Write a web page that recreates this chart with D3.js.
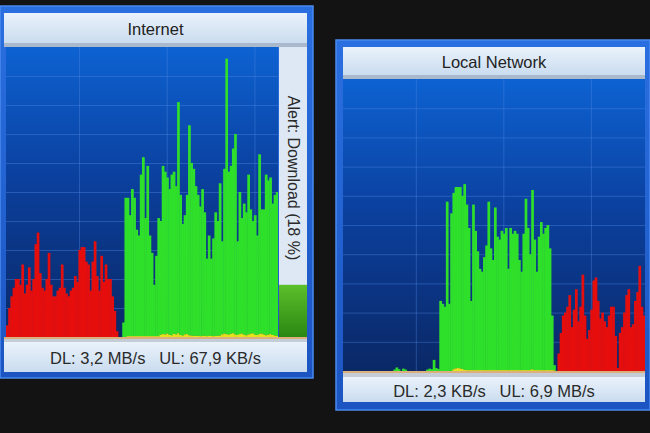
<!DOCTYPE html>
<html>
<head>
<meta charset="utf-8">
<script src="https://cdn.jsdelivr.net/npm/d3@7"></script>
<style>
  body { margin: 0; background: #131313; }
  svg { display: block; }
</style>
</head>
<body>
<svg id="chart" width="650" height="433"></svg>
<script>
// traffic samples, percent of full scale, one value per column (oldest first)
var internetDownload = [
  0,0,0,0,0,0,0,0,0,0, 0,0,0,0,0,0,0,0,0,0, 0,0,0,0,0,0,0,0,0,0,
  0,0,0,0,0,0,0,0,0,0, 0,0,0,0,0,0,0,0,0,0, 0,0,0,
  5,48,48,42,51,48,37,35,56,62,41,59,35,29,18,28,41,40,59,57,55,51,56,57,52,81,49,39,42,49,73,60,58,52,49,
  45,51,43,27,35,27,34,43,40,53,33,58,96,57,59,65,70,33,50,41,46,43,56,44,40,42,35,63,44,44,56,54,55,46,49,50
];
var internetUpload = [
  4,10,14,17,20,20,18,25,15,18,24,16,20,32,36,22,17,16,20,29,18,14,14,16,17,
  25,17,15,14,16,17,21,19,30,31,31,26,25,16,26,33,21,16,28,19,25,20,20,14,9,2,
  0,0,
  0,0,0.3,0.3,0.3,0.3,0.3,0.3,0.3,0.3,0.3,0.3,0.3,0.3,0.3,0.3,0.3,
  0.8,1.0,0.9,1.2,0.8,0.6,1.1,0.9,1.3,0.7,0.5,0.9,1.0,0.6,0.5,0.4,0.4,
  0.4,0.3,0.4,0.4,0.3,0.4,0.4,0.3,0.4,0.4,0.5,
  0.9,1.2,1.0,0.8,1.1,1.3,0.9,0.7,1.0,1.2,0.8,0.6,0.9,1.1,1.3,0.8,0.7,1.0,1.2,0.9,0.6,0.8,1.0,0.7,0.5,0.4
];
var localDownload = [
  0,0,0,0,0,0,0,0,0,0, 0,0,0,0,0,0,0,0,0,0, 0,0,0,
  0.5,1.2,0.6,0,0.8,0.5,
  0,0,0,0,0,0,0,0,0,
  0.5,0.8,0.6,3.8,1.0,0.7,
  24,23,22,58,23,54,61,63,63,63,60,64,57,49,24,57,48,41,35,34,39,43,58,42,38,56,
  46,45,48,47,49,35,49,47,48,47,38,34,47,59,49,40,62,45,34,46,51,47,49,50,42,19,2,
  0,0,0,0,0,0,0,0,0,0, 0,0,0,0,0,0,0,0,0,0, 0,0,0,0,0,0,0,0,0,0,
  0,0,0,0,0,0,0,0,0,0, 0
];
var localUpload = [
  0,0,0,0,0,0,0,0,0,0, 0,0,0,0,0,0,0,0,0,0, 0,0,0,0,0,0,0,0,0,0,
  0,0,0,0,0,0,0,0,0,0, 0,0,0,0,0,0,0,0,0,0,
  0.6,0.9,1.0,0.9,0.7,0.4,
  0.3,0.3,0.3,0.3,0.3,0.3,0.3,0.3,0.3,0.3,0.3,0.3,0.3,0.3,0.3,0.3,0.3,0.3,0.3,0.3,
  0.3,0.3,0.3,0.3,0.3,0.3,0.3,0.3,0.3,0.3,0.6,0.3,0.3,0.3,0.3,0.3,0.3,0.3,0.3,0.3,0.2,
  0,6,13,19,20,22,26,15,21,28,17,22,33,19,11,14,21,31,32,24,18,
  20,17,15,19,22,22,12,1,13,15,20,26,28,15,16,24,27,36,22,19
];

var percentTicks = [10, 20, 30, 40, 50, 60, 70, 80, 90];
var timeTicks = [33, 73, 113];
var panelTitles = ["Internet", "Local Network"];
var panelFooters = ["DL: 3,2 MB/s   UL: 67,9 KB/s", "DL: 2,3 KB/s   UL: 6,9 MB/s"];
var alertLabel = "Alert: Download (18 %)";
var alertLevel = 18;

var colors = { download: "#2fe02b", upload: "#e61010", both: "#e6e21e" };
var font = "'Liberation Sans', Arial, sans-serif";

var svg = d3.select("#chart");
var defs = svg.append("defs");

function vGrad(id, stops) {
  var g = defs.append("linearGradient").attr("id", id)
    .attr("x1", 0).attr("y1", 0).attr("x2", 0).attr("y2", 1);
  stops.forEach(function(s) {
    g.append("stop").attr("offset", s[0]).attr("stop-color", s[1]);
  });
}
vGrad("plotBg", [[0, "#0d62d2"], [0.45, "#0b409e"], [1, "#0a2866"]]);
vGrad("barBg", [[0, "#eaf2fb"], [1, "#cadcef"]]);
vGrad("frameBg", [[0, "#2a6fe0"], [1, "#1c55c2"]]);
vGrad("alertBg", [[0, "#5cbf2a"], [1, "#2a8812"]]);

// slight softening so the columns look like the screen capture
defs.append("filter").attr("id", "soft").attr("x", -0.1).attr("width", 1.2)
  .append("feGaussianBlur").attr("stdDeviation", "0.45 0.2");

function drawPanel(p, download, upload, title, footer, withAlert) {
  var g = svg.append("g");

  // outer frame
  g.append("rect").attr("x", p.x).attr("y", p.y).attr("width", p.w).attr("height", p.h)
    .attr("fill", "url(#frameBg)").attr("stroke", "#4a8af0").attr("stroke-width", 1.5);

  // title bar
  g.append("rect").attr("x", p.title.x).attr("y", p.title.y)
    .attr("width", p.title.w).attr("height", p.title.h).attr("fill", "url(#barBg)");
  g.append("rect").attr("x", p.title.x).attr("y", p.title.y + p.title.h)
    .attr("width", p.title.w).attr("height", p.plot.y - p.title.y - p.title.h).attr("fill", "#a9b8ca");
  g.append("text").attr("x", p.title.x + p.title.w / 2).attr("y", p.title.y + p.title.h / 2 + 1)
    .attr("text-anchor", "middle").attr("dominant-baseline", "central")
    .style("font-family", font).style("font-size", "16.5px")
    .attr("fill", "#222").text(title);

  // plot area
  var plot = p.plot;
  g.append("rect").attr("x", plot.x).attr("y", plot.y).attr("width", plot.w).attr("height", plot.h)
    .attr("fill", "url(#plotBg)");

  var x = d3.scaleBand().domain(d3.range(download.length))
    .range([plot.x, plot.x + plot.w]).padding(0);
  var y = d3.scaleLinear().domain([0, 100]).range([plot.y + plot.h, plot.y]);

  // grid
  var gy = g.append("g").attr("transform", "translate(" + plot.x + ",0)")
    .call(d3.axisLeft(y).tickValues(percentTicks).tickSize(-plot.w).tickFormat(""));
  var gx = g.append("g").attr("transform", "translate(0," + (plot.y + plot.h) + ")")
    .call(d3.axisBottom(x).tickValues(timeTicks).tickSize(plot.h).tickFormat(""));
  gx.selectAll(".tick line").attr("y2", -plot.h);
  [gx, gy].forEach(function(a) {
    a.select(".domain").remove();
    a.selectAll(".tick line").attr("stroke", "#4f86e0").attr("stroke-opacity", 0.4);
  });

  // overlap of download and upload is yellow, the rest green or red
  var segs = [];
  download.forEach(function(d, i) {
    var u = upload[i], lo = Math.min(d, u), hi = Math.max(d, u);
    if (hi > lo) segs.push({ i: i, y0: lo, y1: hi, c: d > u ? colors.download : colors.upload });
    if (lo > 0) segs.push({ i: i, y0: 0, y1: lo, c: colors.both });
  });

  var clipId = "clip" + p.x;
  defs.append("clipPath").attr("id", clipId).append("rect")
    .attr("x", plot.x).attr("y", plot.y).attr("width", plot.w).attr("height", plot.h);

  g.append("g").attr("clip-path", "url(#" + clipId + ")")
    .append("g").attr("filter", "url(#soft)")
    .selectAll("rect").data(segs).enter().append("rect")
    .attr("x", function(d) { return x(d.i); })
    .attr("width", x.bandwidth() + 0.5)
    .attr("y", function(d) { return y(d.y1); })
    .attr("height", function(d) { return Math.max(0.8, y(d.y0) - y(d.y1)); })
    .attr("fill", function(d) { return d.c; });

  // baseline strip under the plot
  var base = plot.y + plot.h;
  g.append("rect").attr("x", p.footer.x).attr("y", base).attr("width", p.footer.w).attr("height", 2)
    .attr("fill", "#dcb07a");
  g.append("rect").attr("x", p.footer.x).attr("y", base + 2).attr("width", p.footer.w)
    .attr("height", p.footer.y - base - 2).attr("fill", "#c4ccd8");

  // alert meter
  if (withAlert) {
    var a = p.alert;
    var ay = d3.scaleLinear().domain([0, 100]).range([a.y + a.h, a.y]);
    g.append("rect").attr("x", a.x).attr("y", a.y).attr("width", a.w).attr("height", a.h)
      .attr("fill", "#dde8f4");
    g.append("rect").attr("x", a.x).attr("y", ay(alertLevel)).attr("width", a.w)
      .attr("height", ay(0) - ay(alertLevel)).attr("fill", "url(#alertBg)");
    g.append("text")
      .attr("transform", "translate(" + (a.x + a.w / 2) + "," + (a.y + 131) + ") rotate(90)")
      .attr("text-anchor", "middle").attr("dominant-baseline", "central")
      .style("font-family", font).style("font-size", "16px")
      .attr("fill", "#2a2a2a").text(alertLabel);
  }

  // footer
  g.append("rect").attr("x", p.footer.x).attr("y", p.footer.y)
    .attr("width", p.footer.w).attr("height", p.footer.h).attr("fill", "url(#barBg)");
  g.append("text").attr("x", p.footer.x + p.footer.w / 2).attr("y", p.footer.y + p.footer.h / 2 + 1)
    .attr("text-anchor", "middle").attr("dominant-baseline", "central")
    .style("font-family", font).style("font-size", "16.5px")
    .style("white-space", "pre")
    .attr("fill", "#2a2a2a").text(footer);
}

drawPanel({
  x: 0, y: 6, w: 313, h: 372,
  title: { x: 4, y: 13, w: 303, h: 30 },
  plot: { x: 6, y: 47, w: 272, h: 290 },
  alert: { x: 279, y: 47, w: 28, h: 290 },
  footer: { x: 4, y: 342, w: 303, h: 30 }
}, internetDownload, internetUpload, panelTitles[0], panelFooters[0], true);

drawPanel({
  x: 336, y: 40, w: 314, h: 370,
  title: { x: 343, y: 47, w: 302, h: 28 },
  plot: { x: 343, y: 79, w: 302, h: 292 },
  footer: { x: 343, y: 377, w: 302, h: 25 }
}, localDownload, localUpload, panelTitles[1], panelFooters[1], false);
</script>
</body>
</html>
